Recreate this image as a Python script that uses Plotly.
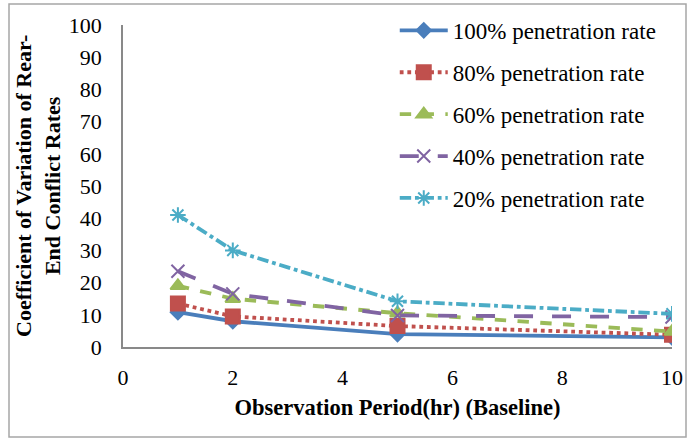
import plotly.graph_objects as go

periods = [1, 2, 5, 10]
names = ["100% penetration rate", "80% penetration rate", "60% penetration rate",
         "40% penetration rate", "20% penetration rate"]
v100 = [10.8, 8.0, 4.0, 3.0]
v80 = [13.5, 9.5, 6.5, 3.8]
v60 = [19.0, 15.0, 10.5, 4.8]
v40 = [23.5, 16.5, 9.8, 9.3]
v20 = [41.0, 30.0, 14.2, 10.3]
series = [v100, v80, v60, v40, v20]

colors = ["#4A7EBB", "#C0504D", "#9BBB59", "#8064A2", "#4BACC6"]
dashes = ["solid", "dot", "dash", "longdash", "dashdot"]
symbols = ["diamond", "square", "triangle-up", "x-thin-open", "asterisk-open"]
msizes = [11, 14, 13, 13, 13]

FONT = "Liberation Serif, Times New Roman, serif"

fig = go.Figure()
for i, (nm, vals) in enumerate(zip(names, series)):
    fig.add_trace(go.Scatter(
        x=periods, y=vals, name=nm, mode="lines+markers",
        legendgroup=f"g{i}",
        line=dict(color=colors[i], width=3.8, dash=dashes[i]),
        marker=dict(symbol=symbols[i], size=msizes[i], color=colors[i],
                    line=dict(color=colors[i], width=2)),
    ))

fig.update_layout(
    width=694, height=439,
    margin=dict(l=123, r=22, t=25, b=92, autoexpand=False),
    paper_bgcolor="white", plot_bgcolor="white",
    font=dict(family=FONT, size=22, color="black"),
    showlegend=True,
    legend=dict(x=0.495, y=1.05, xanchor="left", yanchor="top",
                font=dict(family=FONT, size=23, color="black"),
                tracegroupgap=9, bgcolor="rgba(0,0,0,0)", itemwidth=48),
    xaxis=dict(range=[0, 10], tickvals=[0, 2, 4, 6, 8, 10], showgrid=False,
               zeroline=False, showline=True, linecolor="#898989", linewidth=1.5,
               ticks="outside", ticklen=10, tickcolor="rgba(0,0,0,0)",
               tickfont=dict(family=FONT, size=22),
               title=dict(text="<b>Observation Period(hr) (Baseline)</b>",
                          font=dict(family=FONT, size=22.5), standoff=10)),
    yaxis=dict(range=[0, 100], tickvals=list(range(0, 101, 10)), showgrid=False,
               zeroline=False, showline=True, linecolor="#898989", linewidth=1.5,
               ticks="outside", ticklen=15, tickcolor="rgba(0,0,0,0)",
               tickfont=dict(family=FONT, size=22)),
    annotations=[dict(
        text="<b>Coefficient of Variation of Rear-<br>End Conflict Rates</b>",
        xref="paper", yref="paper", x=(38 - 123) / 549, y=0.5,
        xanchor="center", yanchor="middle", textangle=-90, showarrow=False,
        font=dict(family=FONT, size=22, color="black"))],
    shapes=[dict(type="rect", xref="paper", yref="paper",
                 x0=(9 - 123) / 549, x1=(686 - 123) / 549,
                 y0=-(437 - 347) / 322, y1=(347 - 4) / 322,
                 line=dict(color="#A6A6A6", width=1.5), fillcolor="rgba(0,0,0,0)")],
)

fig.write_html("out.html")
